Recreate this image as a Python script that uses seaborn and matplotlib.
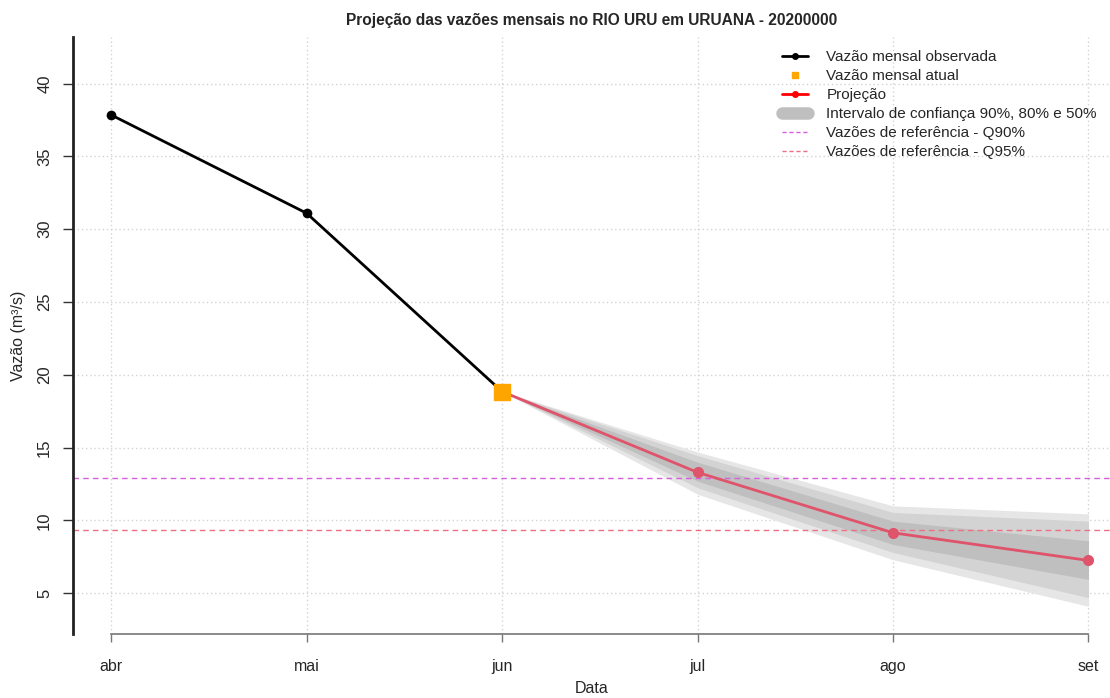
import matplotlib
matplotlib.use("Agg")
import matplotlib.pyplot as plt
import seaborn as sns
import pandas as pd
from matplotlib.lines import Line2D

months = ["abr", "mai", "jun", "jul", "ago", "set"]
obs_values = [37.85, 31.1, 18.85]
proj_values = [18.85, 13.3, 9.15, 7.25]
band90_low = [18.85, 11.8, 7.3, 4.1]
band90_high = [18.85, 14.7, 11.0, 10.45]
band80_low = [18.85, 12.25, 7.8, 4.7]
band80_high = [18.85, 14.45, 10.55, 9.95]
band50_low = [18.85, 12.7, 8.35, 5.95]
band50_high = [18.85, 14.0, 9.95, 8.6]
q90 = 12.9
q95 = 9.35
yticks = [5, 10, 15, 20, 25, 30, 35, 40]

sns.set_style("white")
plt.rcParams['font.family'] = ['Liberation Sans', 'DejaVu Sans']

fig = plt.figure(figsize=(11.10, 6.98), dpi=100)
ax = fig.add_axes([73/1110, (698-634)/698, 1 - 73/1110, (634-37)/698])

x_obs = list(range(len(obs_values)))
x_proj = list(range(2, 2 + len(proj_values)))
df_obs = pd.DataFrame({"x": x_obs, "y": obs_values})
df_proj = pd.DataFrame({"x": x_proj, "y": proj_values})

# grid
for yt in yticks:
    ax.axhline(yt, color="#d3d3d3", lw=1, ls=(0, (1, 2)), zorder=0)
for xt in range(len(months)):
    ax.axvline(xt, color="#d3d3d3", lw=1, ls=(0, (1, 2)), zorder=0)

ax.fill_between(x_proj, band90_low, band90_high, color="#e6e6e6", lw=0, zorder=1)
ax.fill_between(x_proj, band80_low, band80_high, color="#d3d3d3", lw=0, zorder=1)
ax.fill_between(x_proj, band50_low, band50_high, color="#bfbfbf", lw=0, zorder=1)

ax.axhline(q90, color="#d65ddc", lw=1, ls=(0, (4, 3)), zorder=2)
ax.axhline(q95, color="#ec6f84", lw=1, ls=(0, (4, 3)), zorder=2)

sns.lineplot(data=df_obs, x="x", y="y", ax=ax, color="black", lw=2,
             marker="o", markersize=7, markeredgewidth=0, zorder=3)
sns.lineplot(data=df_proj, x="x", y="y", ax=ax, color="#DF536B", lw=2,
             marker="o", markersize=8, markeredgewidth=0, zorder=3)
ax.plot([x_obs[-1]], [obs_values[-1]], marker="s", color="#FFA500",
        markersize=11, ls="none", zorder=4)

ax.set_xlim(-0.195, 5.11)
ax.set_ylim(2.2, 43.2)
ax.set_yticks(yticks)
ax.set_yticklabels([str(v) for v in yticks], rotation=90, va="center", fontsize=12)
ax.set_xticks(range(len(months)))
ax.set_xticklabels(months, fontsize=11.5)
ax.tick_params(axis="both", direction="out", length=7, width=1, color="#333333",
               bottom=True, left=True)
ax.tick_params(axis="x", pad=12, length=6, color="#777777")
ax.tick_params(axis="y", pad=8)

for s in ["top", "right"]:
    ax.spines[s].set_visible(False)
ax.spines["left"].set_linewidth(2)
ax.spines["left"].set_color("#222222")
ax.spines["bottom"].set_bounds(0, 5)
ax.spines["bottom"].set_color("#777777")
ax.spines["bottom"].set_linewidth(1.2)

ax.set_xlabel("Data", fontsize=11.5, labelpad=5)
ax.set_ylabel("Vazão (m³/s)", fontsize=11.5, labelpad=8)
ax.set_title("Projeção das vazões mensais no RIO URU em URUANA - 20200000",
             fontsize=11.2, fontweight="bold", pad=9)

handles = [
    Line2D([], [], color="black", lw=2, marker="o", markersize=4),
    Line2D([], [], color="#FFA500", ls="none", marker="s", markersize=5),
    Line2D([], [], color="red", lw=2, marker="o", markersize=4),
    Line2D([], [], color="#bfbfbf", lw=9, solid_capstyle="round"),
    Line2D([], [], color="#d65ddc", lw=1, ls=(0, (3, 2))),
    Line2D([], [], color="#ec6f84", lw=1, ls=(0, (3, 2))),
]
labels = ["Vazão mensal observada", "Vazão mensal atual", "Projeção",
          "Intervalo de confiança 90%, 80% e 50%",
          "Vazões de referência - Q90%", "Vazões de referência - Q95%"]
fig.legend(handles, labels, loc="upper left",
           bbox_to_anchor=(782/1110, (698-50)/698), frameon=False,
           fontsize=11, labelspacing=0.33, handlelength=1.7, handletextpad=1.2,
           borderaxespad=0, borderpad=0)

fig.savefig("out.png", dpi=100)
